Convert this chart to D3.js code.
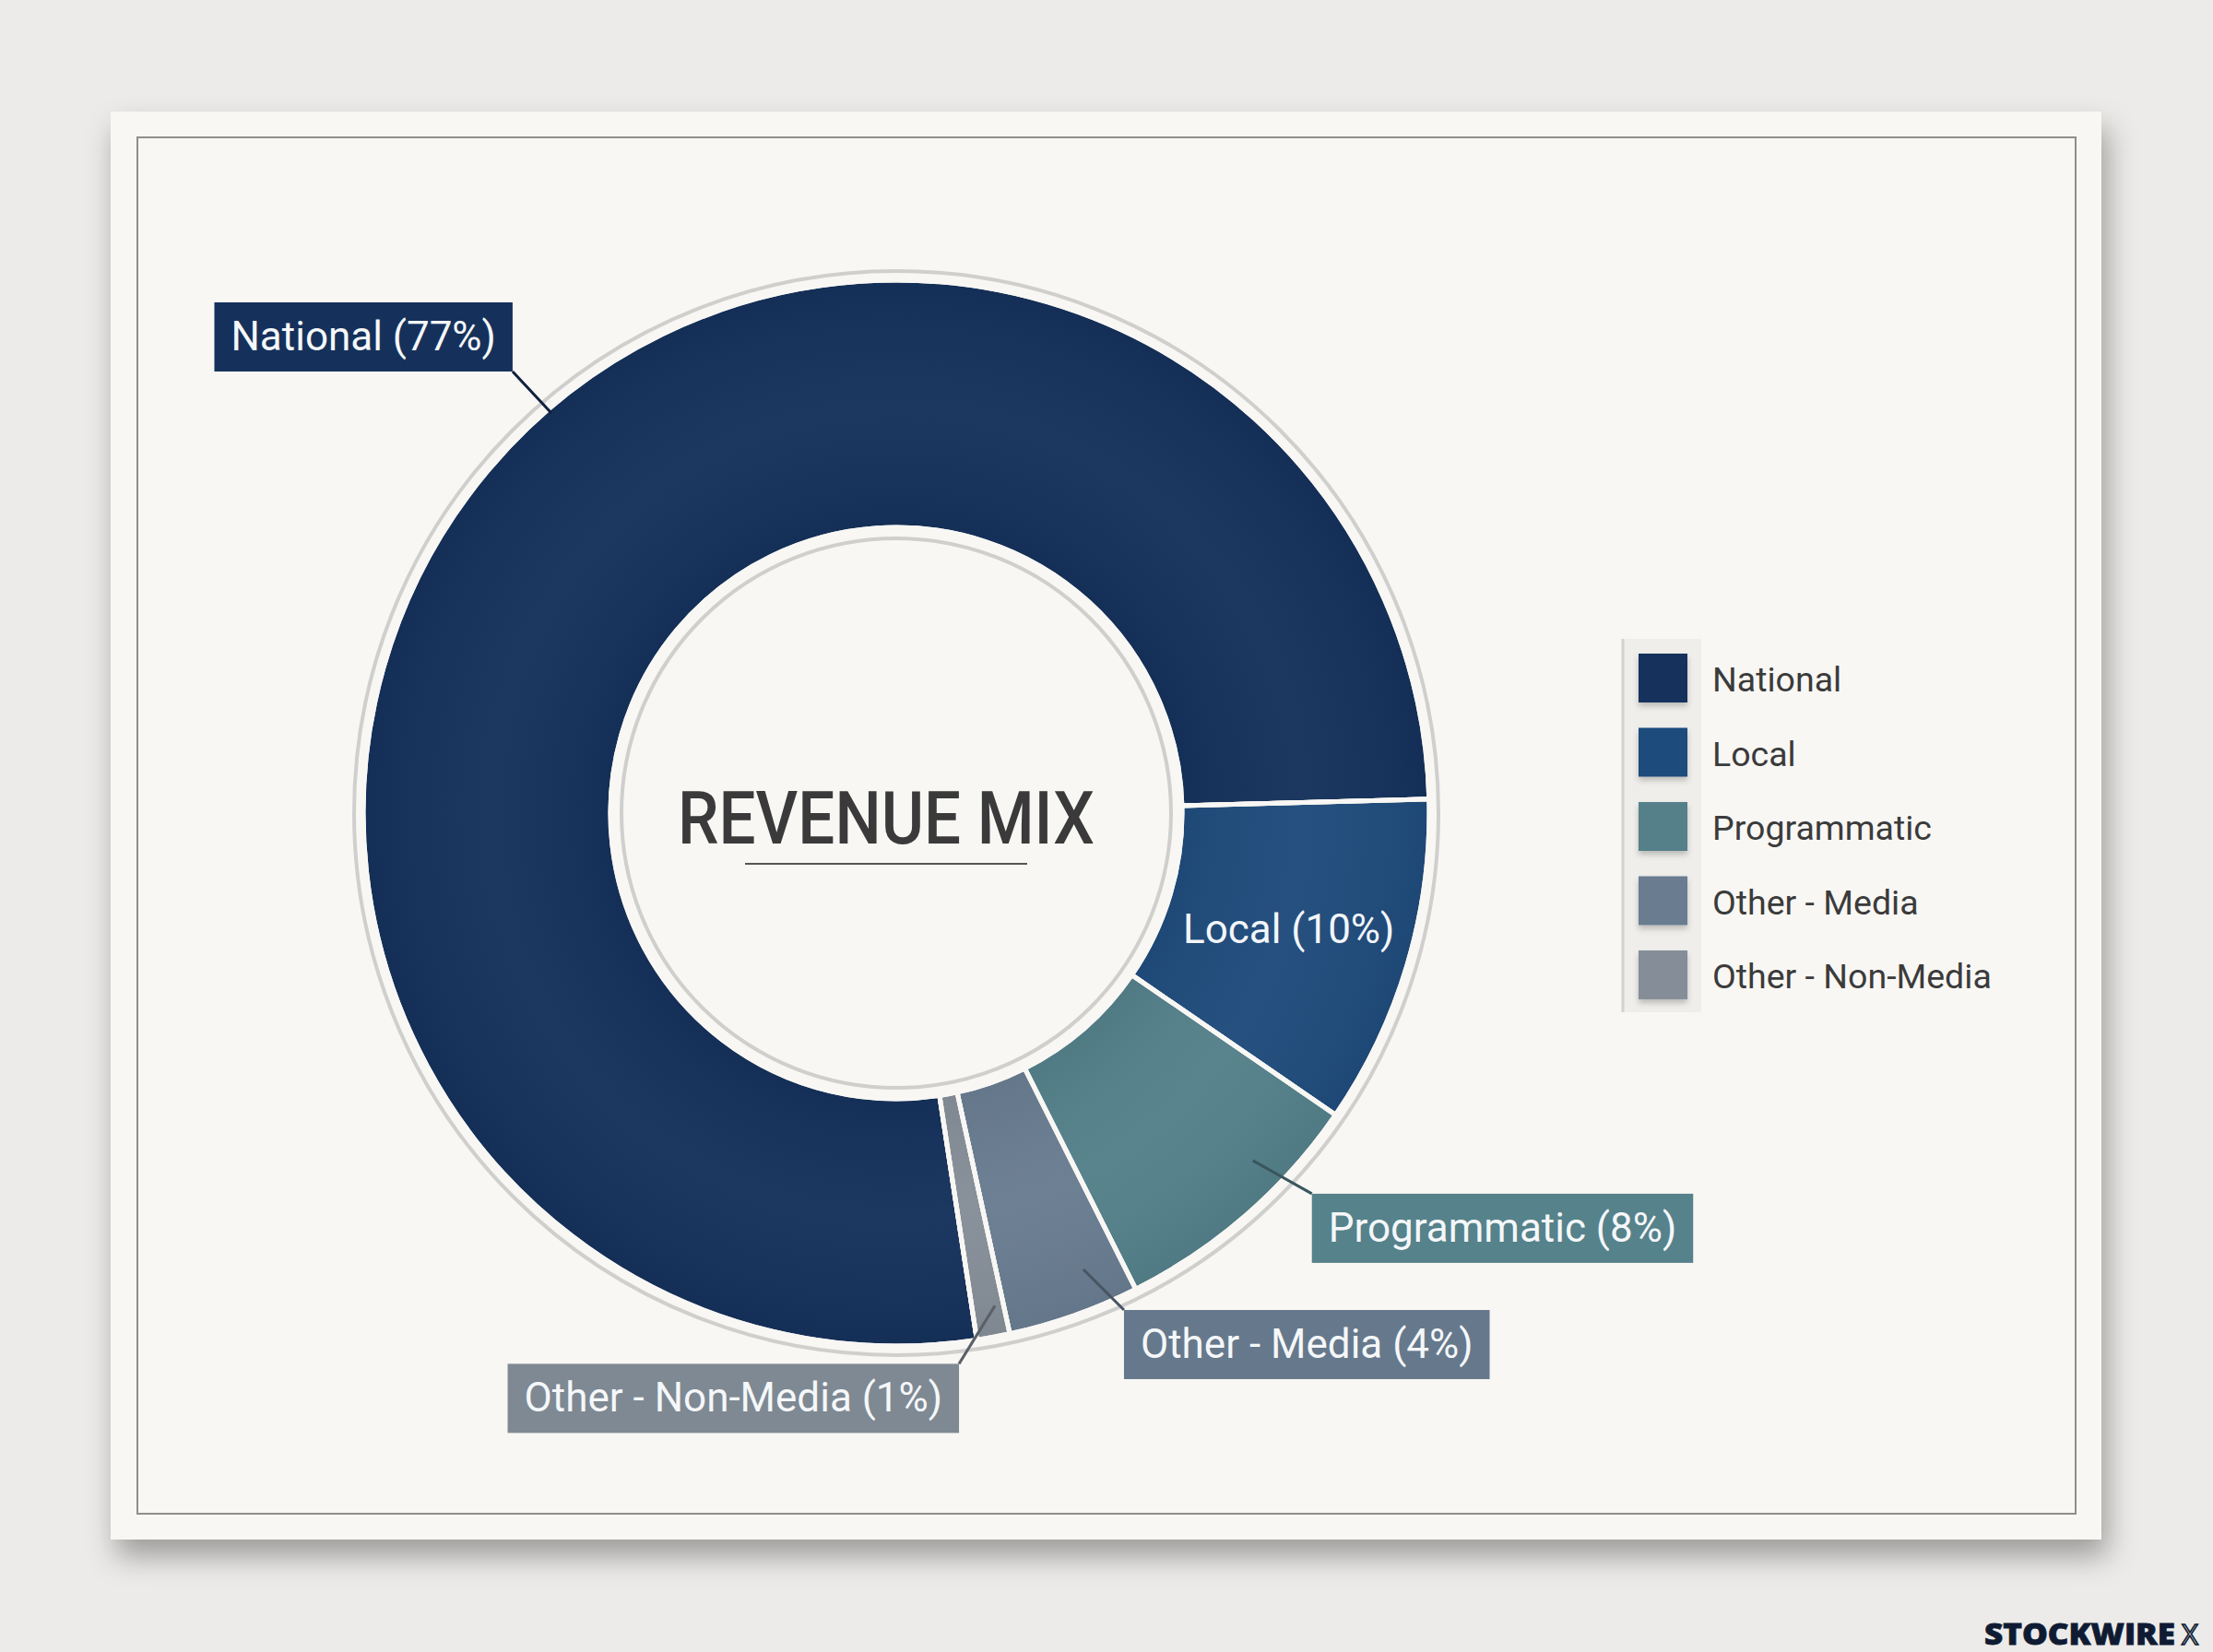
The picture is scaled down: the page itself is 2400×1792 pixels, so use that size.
<!DOCTYPE html>
<html>
<head>
<meta charset="utf-8">
<script src="https://cdn.jsdelivr.net/npm/d3@7/dist/d3.min.js"></script>
<style>
  html, body { margin: 0; padding: 0; background: #ecebe9; }
  svg { display: block; font-family: Roboto, "Noto Sans", sans-serif; }
</style>
</head>
<body>
<div id="chart"></div>
<script>
// revenue mix data
var categories = ["National", "Local", "Programmatic", "Other - Media", "Other - Non-Media"];
var shares = [77, 10, 8, 4, 1];
var colors = ["#15315b", "#1f4b7b", "#54808a", "#697c90", "#858e98"];
var boxColors = ["#15315b", "#1f4b7b", "#56828b", "#66798c", "#7e8993"];
var title = "REVENUE MIX";

// page size
var width = 2400;
var height = 1792;

// donut geometry
var cx = 972, cy = 882;
var outerR = 578, innerR = 310;
// Local starts just above 3 o'clock, National wraps round to meet it
var localStart = 88.5 * Math.PI / 180;

// callouts: where the leader starts (fraction along slice, radius), where it ends, which box corner
var callouts = [
  {i: 0, t: 0.5337, r: 573, dx: -42, dy: -45, corner: "br"},
  {i: 2, t: 0.339, r: 540, dx: 64, dy: 36, corner: "tl"},
  {i: 3, t: 0.306, r: 535, dx: 44, dy: 44, corner: "tl"},
  {i: 4, t: 0.27, r: 545, dx: -39, dy: 63, corner: "tr"}
];
var boxH = 75, boxPad = 18;

var svg = d3.select("#chart")
  .append("svg")
  .attr("width", width)
  .attr("height", height);

var defs = svg.append("defs");

var cardShadow = defs.append("filter").attr("id", "cardShadow")
  .attr("x", "-5%").attr("y", "-5%").attr("width", "112%").attr("height", "118%");
cardShadow.append("feDropShadow")
  .attr("dx", 6).attr("dy", 18).attr("stdDeviation", 16)
  .attr("flood-color", "#000").attr("flood-opacity", 0.34);

var swShadow = defs.append("filter").attr("id", "swShadow")
  .attr("x", "-30%").attr("y", "-30%").attr("width", "160%").attr("height", "170%");
swShadow.append("feDropShadow")
  .attr("dx", 0).attr("dy", 4).attr("stdDeviation", 3)
  .attr("flood-color", "#000").attr("flood-opacity", 0.22);

// soft shading on the slices, a bit lighter in the middle of the ring
var shade = defs.append("radialGradient").attr("id", "shade")
  .attr("gradientUnits", "userSpaceOnUse")
  .attr("cx", 0).attr("cy", 0).attr("r", outerR);
shade.append("stop").attr("offset", 0.53).attr("stop-color", "#000").attr("stop-opacity", 0.05);
shade.append("stop").attr("offset", 0.76).attr("stop-color", "#fff").attr("stop-opacity", 0.03);
shade.append("stop").attr("offset", 1).attr("stop-color", "#000").attr("stop-opacity", 0.05);

// background
svg.append("rect")
  .attr("width", width)
  .attr("height", height)
  .attr("fill", "#ecebe9");

// card
svg.append("rect")
  .attr("x", 120).attr("y", 121)
  .attr("width", 2159).attr("height", 1549)
  .attr("fill", "#f8f7f4")
  .attr("filter", "url(#cardShadow)");

svg.append("rect")
  .attr("x", 149).attr("y", 149)
  .attr("width", 2102).attr("height", 1493)
  .attr("fill", "none")
  .attr("stroke", "#8e8e8c")
  .attr("stroke-width", 2);

// pie layout
var total = d3.sum(shares);
var start = localStart - shares[0] / total * 2 * Math.PI;
var pie = d3.pie()
  .sort(null)
  .value(function(d) { return d; })
  .startAngle(start)
  .endAngle(start + 2 * Math.PI);
var arcs = pie(shares);

var arc = d3.arc()
  .innerRadius(innerR)
  .outerRadius(outerR);

var donut = svg.append("g")
  .attr("transform", "translate(" + cx + "," + cy + ")");

// thin grey rings around and inside the donut
donut.append("circle")
  .attr("r", outerR + 10)
  .attr("fill", "none")
  .attr("stroke", "#cfcfcd")
  .attr("stroke-width", 4);

donut.append("circle")
  .attr("r", innerR - 12)
  .attr("fill", "none")
  .attr("stroke", "#cfcfcd")
  .attr("stroke-width", 4);

donut.selectAll("path.slice")
  .data(arcs)
  .enter()
  .append("path")
  .attr("class", "slice")
  .attr("d", arc)
  .attr("fill", function(d, i) { return colors[i]; })
  .attr("stroke", "#f8f7f4")
  .attr("stroke-width", 5);

donut.selectAll("path.shade")
  .data(arcs)
  .enter()
  .append("path")
  .attr("class", "shade")
  .attr("d", arc)
  .attr("fill", "url(#shade)")
  .attr("stroke", "#f8f7f4")
  .attr("stroke-width", 5);

// title in the hole
donut.append("text")
  .text(title)
  .attr("x", -11)
  .attr("y", 33)
  .attr("text-anchor", "middle")
  .attr("font-size", 79)
  .attr("font-weight", 500)
  .attr("fill", "#3a3a3a")
  .attr("textLength", 452)
  .attr("lengthAdjust", "spacingAndGlyphs");

donut.append("line")
  .attr("x1", -164).attr("x2", 142)
  .attr("y1", 55).attr("y2", 55)
  .attr("stroke", "#555")
  .attr("stroke-width", 2);

function labelText(i) { return categories[i] + " (" + shares[i] + "%)"; }

// Local label sits inside its slice
donut.append("text")
  .text(labelText(1))
  .attr("x", arc.centroid(arcs[1])[0])
  .attr("y", arc.centroid(arcs[1])[1] + 15)
  .attr("text-anchor", "middle")
  .attr("font-size", 44)
  .attr("fill", "#f3f6f9");

// boxed callouts with leader lines
callouts.forEach(function(c) {
  var d = arcs[c.i];
  var a = d.startAngle + c.t * (d.endAngle - d.startAngle);
  var x0 = c.r * Math.sin(a), y0 = -c.r * Math.cos(a);
  var x1 = x0 + c.dx, y1 = y0 + c.dy;

  donut.append("line")
    .attr("x1", x0).attr("y1", y0)
    .attr("x2", x1).attr("y2", y1)
    .attr("stroke", d3.color(colors[c.i]).darker(1.1))
    .attr("stroke-width", 3);

  var g = donut.append("g");
  var rect = g.append("rect")
    .attr("fill", boxColors[c.i]);
  var txt = g.append("text")
    .text(labelText(c.i))
    .attr("font-size", 44)
    .attr("fill", "#f5f7f9");
  var w = txt.node().getComputedTextLength() + boxPad * 2;
  var bx = c.corner.charAt(1) === "r" ? x1 - w : x1;
  var by = c.corner.charAt(0) === "b" ? y1 - boxH : y1;
  rect.attr("x", bx).attr("y", by)
    .attr("width", w).attr("height", boxH);
  txt.attr("x", bx + boxPad).attr("y", by + 52);
});

// legend
var legendX = 1760, legendY = 693, legendStep = 80.5, sw = 53;

svg.append("rect")
  .attr("x", legendX).attr("y", legendY)
  .attr("width", 85).attr("height", 405)
  .attr("fill", "#efeeeb");

svg.append("line")
  .attr("x1", legendX).attr("x2", legendX)
  .attr("y1", legendY).attr("y2", legendY + 405)
  .attr("stroke", "#d2d2d0")
  .attr("stroke-width", 3);

var legend = svg.selectAll("g.legend")
  .data(categories)
  .enter()
  .append("g")
  .attr("class", "legend")
  .attr("transform", function(d, i) {
    return "translate(" + (legendX + 17) + "," + (legendY + 16 + i * legendStep) + ")";
  });

legend.append("rect")
  .attr("width", sw).attr("height", sw)
  .attr("fill", function(d, i) { return colors[i]; })
  .attr("filter", "url(#swShadow)");

legend.append("text")
  .text(function(d) { return d; })
  .attr("x", 80)
  .attr("y", 41)
  .attr("font-size", 37.5)
  .attr("fill", "#3b3b3b");

// watermark
svg.append("text")
  .text("STOCKWIRE")
  .attr("x", 2152).attr("y", 1784)
  .attr("font-family", "'Open Sans', sans-serif")
  .attr("font-size", 31)
  .attr("font-weight", 800)
  .attr("fill", "#0f1b33")
  .attr("stroke", "#0f1b33")
  .attr("stroke-width", 0.8)
  .attr("textLength", 207)
  .attr("lengthAdjust", "spacingAndGlyphs");

svg.append("text")
  .text("X")
  .attr("x", 2366).attr("y", 1784)
  .attr("font-family", "'Open Sans', sans-serif")
  .attr("font-size", 31)
  .attr("font-weight", 400)
  .attr("fill", "none")
  .attr("stroke", "#0f1b33")
  .attr("stroke-width", 1.6);
</script>
</body>
</html>
